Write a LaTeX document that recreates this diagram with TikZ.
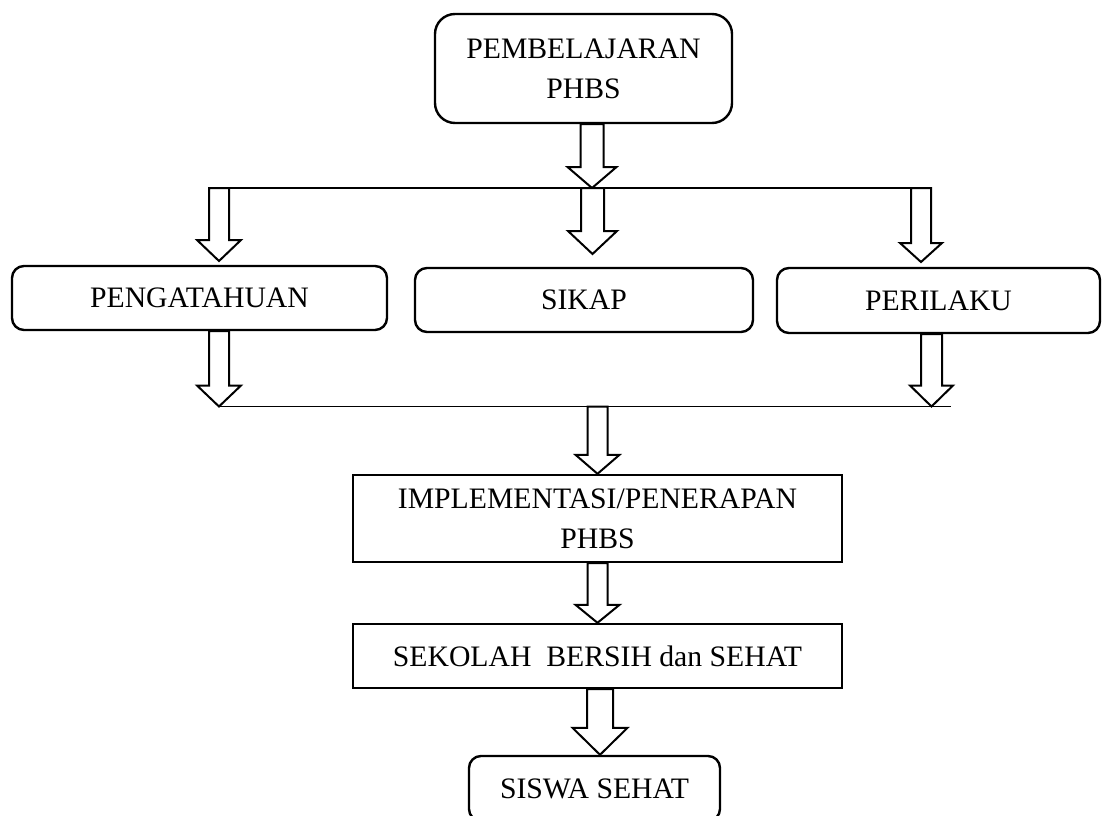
\documentclass[tikz,border=0pt]{standalone}
\usepackage{fontspec}
\setmainfont{Liberation Serif}
\usetikzlibrary{calc}
\tikzset{
  boxfont/.style={font={\fontsize{29.7}{40}\selectfont}, align=center},
  roundbox/.style={boxfont, draw, line width=2.4pt, rounded corners=12pt, inner sep=0pt},
  sharpbox/.style={boxfont, draw, line width=2.4pt, inner sep=0pt},
  thinline/.style={line width=1.1pt},
  blockarrow/.style={draw, fill=white, line width=2pt, line join=miter},
}
\newcommand{\barrow}[5]{%
  \draw[blockarrow] let \p1=(#1), \p2=(#2) in
   (\x2-#3pt,\y1) -- (\x2+#3pt,\y1) -- (\x2+#3pt,\y2+#5pt) -- (\x2+#4pt,\y2+#5pt)
   -- (\x2,\y2) -- (\x2-#4pt,\y2+#5pt) -- (\x2-#3pt,\y2+#5pt) -- cycle;}
\begin{document}
\begin{tikzpicture}[x=1pt,y=-1pt]
\useasboundingbox (0,0) rectangle (1103,816);
\clip (0,0) rectangle (1103,816);
\fill[white] (0,0) rectangle (1103,816);

% nodes
\node[roundbox, rounded corners=20pt, minimum width=297pt, minimum height=109pt] (top) at (583.5,68.5) {PEMBELAJARAN\\PHBS};
\node[roundbox, minimum width=375pt, minimum height=64pt] (peng) at (199.5,298) {PENGATAHUAN};
\node[roundbox, minimum width=338pt, minimum height=64pt] (sikap) at (584,300) {SIKAP};
\node[roundbox, minimum width=323pt, minimum height=65pt] (peri) at (938.5,300.5) {PERILAKU};
\node[sharpbox, minimum width=489pt, minimum height=87pt] (impl) at (597.5,518.5) {IMPLEMENTASI/PENERAPAN\\PHBS};
\node[sharpbox, minimum width=489pt, minimum height=64pt] (sek) at (597.5,656) {SEKOLAH\ \ BERSIH dan SEHAT};
\node[roundbox, minimum width=251pt, minimum height=65pt] (siswa) at (594.5,788.5) {SISWA SEHAT};

% junction coordinates
\coordinate (l1a) at (219,188);
\coordinate (l1b) at (932,188);
\coordinate (l1m) at (592,188);
\coordinate (l1r) at (921,188);
\coordinate (l2a) at (219,406.5);
\coordinate (l2b) at (951,406.5);
\coordinate (l2r) at (931.5,406.5);
\coordinate (l2m) at (595,406.5);

% thin lines
\draw[thinline] (l1a) -- (l1b);
\draw[thinline] (l2a) -- (l2b);

% tips
\coordinate (t2) at (592.5,254);
\coordinate (t3) at (219,261);
\coordinate (t4) at (921,262);

% block arrows
\barrow{top.south}{l1m}{11.5}{24.5}{21}
\barrow{l1m}{t2}{11.5}{24.5}{23}
\barrow{l1a}{t3}{10}{22}{21}
\barrow{l1r}{t4}{10}{21}{19}
\barrow{peng.south}{l2a}{10}{22}{21}
\barrow{peri.south}{l2r}{10.5}{21.5}{21}
\barrow{l2m}{impl.north}{10}{22}{19}
\barrow{impl.south}{sek.north -| impl.south}{10}{22}{18}
\coordinate (s9) at (600,0);
\barrow{sek.south}{siswa.north -| s9}{13}{27.5}{27}
\end{tikzpicture}
\end{document}
